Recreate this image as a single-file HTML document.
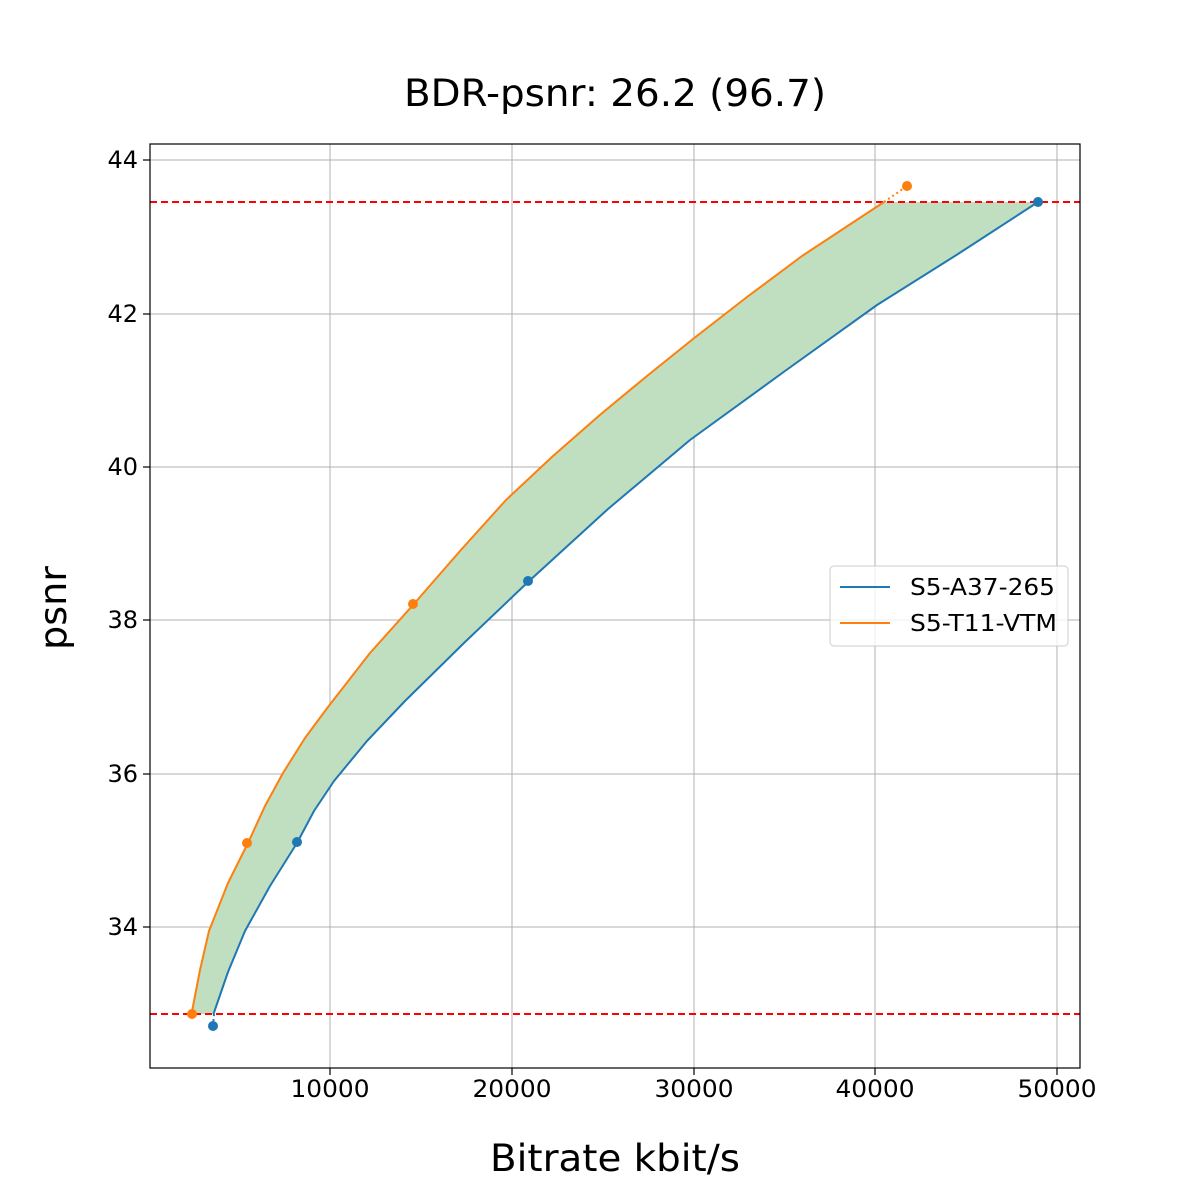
<!DOCTYPE html>
<html><head><meta charset="utf-8"><style>
body{margin:0;background:#fff}
svg{display:block;font-family:"DejaVu Sans","Liberation Sans",sans-serif}
</style></head><body>
<svg width="1200" height="1200" viewBox="0 0 1200 1200">
<defs>
<clipPath id="band"><rect x="140" y="202" width="960" height="812"/></clipPath>
</defs>
<g stroke="#b0b0b0" stroke-width="1">
<line x1="330" y1="144" x2="330" y2="1068"/><line x1="512" y1="144" x2="512" y2="1068"/>
<line x1="694" y1="144" x2="694" y2="1068"/><line x1="875" y1="144" x2="875" y2="1068"/>
<line x1="1057" y1="144" x2="1057" y2="1068"/>
<line x1="150" y1="160" x2="1080" y2="160"/><line x1="150" y1="314" x2="1080" y2="314"/>
<line x1="150" y1="467" x2="1080" y2="467"/><line x1="150" y1="620" x2="1080" y2="620"/>
<line x1="150" y1="774" x2="1080" y2="774"/><line x1="150" y1="927" x2="1080" y2="927"/>
</g>
<polygon clip-path="url(#band)" fill="#c0dfc0" points="191.5,1014 200,970 209,931 228,883 248,843 265,806 283,773 305,738 328,707 370,653 413,605 460,551 506,500 553,456 601,414 647,376 693,339 747,297 802,256 843,229 884,202 907,186 1038,186 1038,202 958,254 877,305 785,371 690,440 608,509 528,582 465,642 405,701 367,741 334,781 314,811 297,843 270,886 245,931 228,972 213.5,1014"/>
<line x1="150" y1="202" x2="1080" y2="202" stroke="#f00" stroke-width="2" stroke-dasharray="7,4"/>
<line x1="150" y1="1014" x2="1080" y2="1014" stroke="#f00" stroke-width="2" stroke-dasharray="7,4"/>
<polyline fill="none" stroke="#1f77b4" stroke-width="2" stroke-linejoin="round" points="213.5,1014 228,972 245,931 270,886 297,843 314,811 334,781 367,741 405,701 465,642 528,582 608,509 690,440 785,371 877,305 958,254 1038,202"/>
<line x1="213" y1="1026" x2="214" y2="1014" stroke="#1f77b4" stroke-width="2" stroke-dasharray="2,3"/>
<polyline fill="none" stroke="#ff7f0e" stroke-width="2" stroke-linejoin="round" points="191.5,1014 200,970 209,931 228,883 248,843 265,806 283,773 305,738 328,707 370,653 413,605 460,551 506,500 553,456 601,414 647,376 693,339 747,297 802,256 843,229 884,202"/>
<line x1="884" y1="202" x2="907" y2="186" stroke="#ff7f0e" stroke-width="2" stroke-dasharray="2,3"/>
<g fill="#1f77b4"><circle cx="213" cy="1026" r="5"/><circle cx="297" cy="842" r="5"/><circle cx="528" cy="581" r="5"/><circle cx="1038" cy="202" r="5"/></g>
<g fill="#ff7f0e"><circle cx="192" cy="1014" r="5"/><circle cx="247" cy="843" r="5"/><circle cx="413" cy="604" r="5"/><circle cx="907" cy="186" r="5"/></g>
<rect x="150" y="144" width="930" height="924" fill="none" stroke="#000" stroke-width="1.2"/>
<g stroke="#000" stroke-width="1.2">
<line x1="330" y1="1068" x2="330" y2="1075"/><line x1="512" y1="1068" x2="512" y2="1075"/>
<line x1="694" y1="1068" x2="694" y2="1075"/><line x1="875" y1="1068" x2="875" y2="1075"/>
<line x1="1057" y1="1068" x2="1057" y2="1075"/>
<line x1="143" y1="160" x2="150" y2="160"/><line x1="143" y1="314" x2="150" y2="314"/>
<line x1="143" y1="467" x2="150" y2="467"/><line x1="143" y1="620" x2="150" y2="620"/>
<line x1="143" y1="774" x2="150" y2="774"/><line x1="143" y1="927" x2="150" y2="927"/>
</g>
<g font-size="24" text-anchor="middle">
<text x="330" y="1097" textLength="79" lengthAdjust="spacingAndGlyphs">10000</text><text x="512" y="1097" textLength="79" lengthAdjust="spacingAndGlyphs">20000</text><text x="694" y="1097" textLength="79" lengthAdjust="spacingAndGlyphs">30000</text>
<text x="875" y="1097" textLength="79" lengthAdjust="spacingAndGlyphs">40000</text><text x="1057" y="1097" textLength="79" lengthAdjust="spacingAndGlyphs">50000</text>
</g>
<g font-size="24" text-anchor="end">
<text x="138" y="168">44</text><text x="138" y="322">42</text><text x="138" y="475">40</text>
<text x="138" y="628">38</text><text x="138" y="782">36</text><text x="138" y="935">34</text>
</g>
<text x="404" y="106" font-size="37" textLength="422" lengthAdjust="spacingAndGlyphs">BDR-psnr: 26.2 (96.7)</text>
<text x="490" y="1171" font-size="37" textLength="250" lengthAdjust="spacingAndGlyphs">Bitrate kbit/s</text>
<text transform="translate(66,650) rotate(-90)" font-size="37" textLength="84" lengthAdjust="spacingAndGlyphs">psnr</text>
<rect x="830" y="566" width="238" height="80" rx="4" fill="#fff" fill-opacity="0.8" stroke="#ccc"/>
<line x1="840" y1="587" x2="890" y2="587" stroke="#1f77b4" stroke-width="2"/>
<line x1="840" y1="623" x2="890" y2="623" stroke="#ff7f0e" stroke-width="2"/>
<text x="910" y="595" font-size="23" textLength="145" lengthAdjust="spacingAndGlyphs">S5-A37-265</text>
<text x="910" y="631" font-size="23" textLength="147" lengthAdjust="spacingAndGlyphs">S5-T11-VTM</text>
</svg>
</body></html>
